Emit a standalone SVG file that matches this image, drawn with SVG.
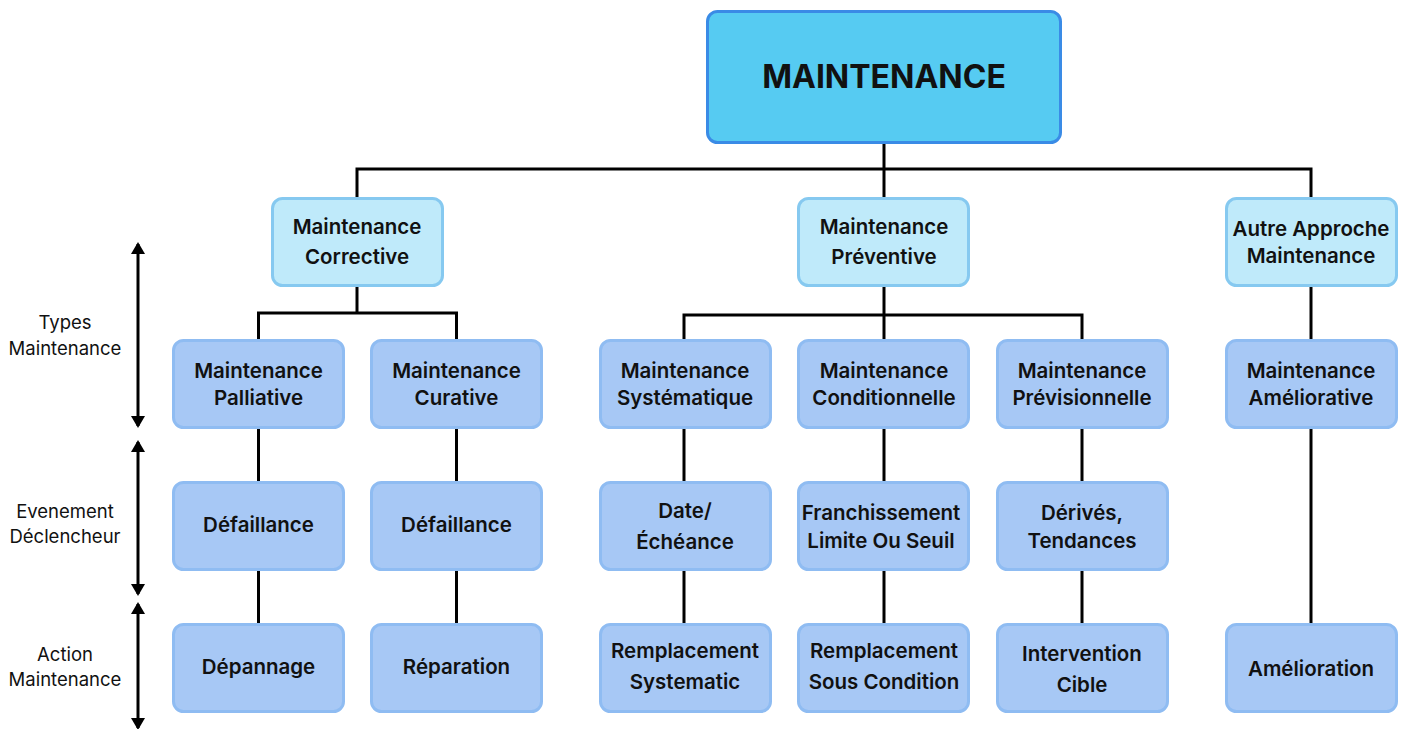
<svg xmlns="http://www.w3.org/2000/svg" width="1403" height="729" viewBox="0 0 1403 729">
  <defs>
    <marker id="tip" viewBox="0 0 12 14" refX="10" refY="7" markerWidth="12" markerHeight="14" markerUnits="userSpaceOnUse" orient="auto-start-reverse">
      <path d="M0,0 L12,7 L0,14 z" fill="#000"/>
    </marker>
    <style>
      .root rect { fill: #56CBF2; stroke: #3A8BE6; stroke-width: 3; }
      .cat rect { fill: #BFEAFA; stroke: #86C9F0; stroke-width: 3; }
      .leaf rect { fill: #A7C8F5; stroke: #8FBCF2; stroke-width: 3; }
      .node text { font-family: Inter, "Liberation Sans", sans-serif; font-weight: 600; font-size: 20.5px; fill: #111; text-anchor: middle; }
      .root text { font-weight: 700; font-size: 32px; }
      .lane text { font-family: Inter, "Liberation Sans", sans-serif; font-size: 18.5px; fill: #111; text-anchor: middle; }
      .links path { fill: none; stroke: #000; stroke-width: 3; }
      .lane line { stroke: #000; stroke-width: 3; }
    </style>
  </defs>

  <rect width="1403" height="729" fill="#fff"/>

  <!-- connectors -->
  <g class="links">
    <path d="M884,143 V198"/>
    <path d="M357,198 V169 H1311 V198"/>
    <path d="M357,286 V313"/>
    <path d="M258.5,340 V313 H456.5 V340"/>
    <path d="M884,286 V340"/>
    <path d="M684,340 V315 H1082 V340"/>
    <path d="M1311,286 V340"/>
    <path d="M258.5,428 V482 M258.5,570 V624"/>
    <path d="M456.5,428 V482 M456.5,570 V624"/>
    <path d="M684,428 V482 M684,570 V624"/>
    <path d="M884,428 V482 M884,570 V624"/>
    <path d="M1082,428 V482 M1082,570 V624"/>
    <path d="M1311,428 V624"/>
  </g>

  <!-- level lanes -->
  <g class="lane" id="lane-types">
    <line x1="138" y1="244" x2="138" y2="426" marker-start="url(#tip)" marker-end="url(#tip)"/>
    <text x="65" y="329">Types</text>
    <text x="65" y="355">Maintenance</text>
  </g>
  <g class="lane" id="lane-event">
    <line x1="138" y1="442" x2="138" y2="594" marker-start="url(#tip)" marker-end="url(#tip)"/>
    <text x="65" y="518">Evenement</text>
    <text x="65" y="543">Déclencheur</text>
  </g>
  <g class="lane" id="lane-action">
    <line x1="138" y1="604" x2="138" y2="728" marker-start="url(#tip)" marker-end="url(#tip)"/>
    <text x="65" y="661">Action</text>
    <text x="65" y="686">Maintenance</text>
  </g>

  <!-- root -->
  <g class="node root" id="maintenance">
    <rect x="707.5" y="11.5" width="353" height="131" rx="10"/>
    <text x="884" y="88">MAINTENANCE</text>
  </g>

  <!-- categories -->
  <g class="node cat" id="corrective">
    <rect x="272.5" y="198.5" width="170" height="87" rx="10"/>
    <text x="357" y="234">Maintenance</text>
    <text x="357" y="264">Corrective</text>
  </g>
  <g class="node cat" id="preventive">
    <rect x="798.5" y="198.5" width="170" height="87" rx="10"/>
    <text x="884" y="234">Maintenance</text>
    <text x="884" y="264">Préventive</text>
  </g>
  <g class="node cat" id="autre">
    <rect x="1226.5" y="198.5" width="170" height="87" rx="10"/>
    <text x="1311" y="236">Autre Approche</text>
    <text x="1311" y="263">Maintenance</text>
  </g>

  <!-- types -->
  <g class="node leaf" id="palliative">
    <rect x="173.5" y="340.5" width="170" height="87" rx="10"/>
    <text x="258.5" y="378">Maintenance</text>
    <text x="258.5" y="405">Palliative</text>
  </g>
  <g class="node leaf" id="curative">
    <rect x="371.5" y="340.5" width="170" height="87" rx="10"/>
    <text x="456.5" y="378">Maintenance</text>
    <text x="456.5" y="405">Curative</text>
  </g>
  <g class="node leaf" id="systematique">
    <rect x="600.5" y="340.5" width="170" height="87" rx="10"/>
    <text x="685" y="378">Maintenance</text>
    <text x="685" y="405">Systématique</text>
  </g>
  <g class="node leaf" id="conditionnelle">
    <rect x="798.5" y="340.5" width="170" height="87" rx="10"/>
    <text x="884" y="378">Maintenance</text>
    <text x="884" y="405">Conditionnelle</text>
  </g>
  <g class="node leaf" id="previsionnelle">
    <rect x="997.5" y="340.5" width="170" height="87" rx="10"/>
    <text x="1082" y="378">Maintenance</text>
    <text x="1082" y="405">Prévisionnelle</text>
  </g>
  <g class="node leaf" id="ameliorative">
    <rect x="1226.5" y="340.5" width="170" height="87" rx="10"/>
    <text x="1311" y="378">Maintenance</text>
    <text x="1311" y="405">Améliorative</text>
  </g>

  <!-- trigger events -->
  <g class="node leaf" id="defaillance-1">
    <rect x="173.5" y="482.5" width="170" height="87" rx="10"/>
    <text x="258.5" y="532">Défaillance</text>
  </g>
  <g class="node leaf" id="defaillance-2">
    <rect x="371.5" y="482.5" width="170" height="87" rx="10"/>
    <text x="456.5" y="532">Défaillance</text>
  </g>
  <g class="node leaf" id="echeance">
    <rect x="600.5" y="482.5" width="170" height="87" rx="10"/>
    <text x="685" y="518">Date/</text>
    <text x="685" y="549">Échéance</text>
  </g>
  <g class="node leaf" id="seuil">
    <rect x="798.5" y="482.5" width="170" height="87" rx="10"/>
    <text x="881" y="520">Franchissement</text>
    <text x="881" y="548">Limite Ou Seuil</text>
  </g>
  <g class="node leaf" id="tendances">
    <rect x="997.5" y="482.5" width="170" height="87" rx="10"/>
    <text x="1082" y="520">Dérivés,</text>
    <text x="1082" y="548">Tendances</text>
  </g>

  <!-- actions -->
  <g class="node leaf" id="depannage">
    <rect x="173.5" y="624.5" width="170" height="87" rx="10"/>
    <text x="258.5" y="674">Dépannage</text>
  </g>
  <g class="node leaf" id="reparation">
    <rect x="371.5" y="624.5" width="170" height="87" rx="10"/>
    <text x="456.5" y="674">Réparation</text>
  </g>
  <g class="node leaf" id="remplacement-systematic">
    <rect x="600.5" y="624.5" width="170" height="87" rx="10"/>
    <text x="685" y="658">Remplacement</text>
    <text x="685" y="689">Systematic</text>
  </g>
  <g class="node leaf" id="remplacement-condition">
    <rect x="798.5" y="624.5" width="170" height="87" rx="10"/>
    <text x="884" y="658">Remplacement</text>
    <text x="884" y="689">Sous Condition</text>
  </g>
  <g class="node leaf" id="intervention">
    <rect x="997.5" y="624.5" width="170" height="87" rx="10"/>
    <text x="1082" y="661">Intervention</text>
    <text x="1082" y="692">Cible</text>
  </g>
  <g class="node leaf" id="amelioration">
    <rect x="1226.5" y="624.5" width="170" height="87" rx="10"/>
    <text x="1311" y="676">Amélioration</text>
  </g>
</svg>
